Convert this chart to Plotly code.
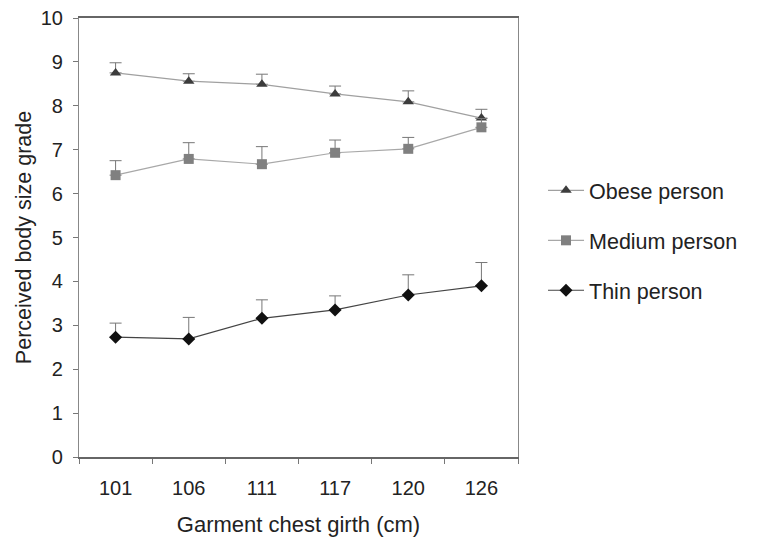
import plotly.graph_objects as go

categories = ["101", "106", "111", "117", "120", "126"]
obese = [8.75, 8.56, 8.49, 8.27, 8.09, 7.72]
obese_err = [0.23, 0.17, 0.23, 0.18, 0.25, 0.2]
medium = [6.42, 6.79, 6.67, 6.93, 7.02, 7.51]
medium_err = [0.33, 0.37, 0.4, 0.29, 0.26, 0.2]
thin = [2.73, 2.69, 3.16, 3.35, 3.69, 3.9]
thin_err = [0.32, 0.49, 0.42, 0.32, 0.46, 0.53]

FONT = "Liberation Sans, Arial, sans-serif"

fig = go.Figure()

def add(name, y, err, symbol, mcolor, lcolor, msize):
    fig.add_trace(go.Scatter(
        x=categories, y=y, name=name, mode="lines+markers",
        line=dict(color=lcolor, width=1.2),
        marker=dict(symbol=symbol, color=mcolor, size=msize),
        error_y=dict(type="data", array=err, arrayminus=[0]*len(err), symmetric=False,
                     color="#777777", thickness=1, width=6),
        legendgroup=name,
    ))

add("Obese person", obese, obese_err, "triangle-up", "#3c3c3c", "#a0a0a0", 10)
add("Medium person", medium, medium_err, "square", "#808080", "#a8a8a8", 10)
add("Thin person", thin, thin_err, "diamond", "#111111", "#444444", 10)

fig.update_layout(
    width=757, height=538, autosize=False,
    margin=dict(l=79, r=239, t=18, b=81),
    paper_bgcolor="white", plot_bgcolor="white",
    font=dict(family=FONT, size=20, color="#222222"),
    legend=dict(x=1.057, y=0.654, xanchor="left", yanchor="top",
                font=dict(size=21.5, color="#222222"), itemwidth=36,
                tracegroupgap=19, bgcolor="rgba(0,0,0,0)", borderwidth=0),
    showlegend=True,
)
fig.update_xaxes(
    type="category", range=[-0.5, len(categories) - 0.5],
    tickson="boundaries", ticks="outside", ticklen=5, tickcolor="#777777",
    showline=True, linecolor="#666666", linewidth=1.5, mirror=True,
    showgrid=False, tickfont=dict(size=20), ticklabelstandoff=12, automargin=False,
    title=dict(text="Garment chest girth (cm)", font=dict(size=22), standoff=19),
)
fig.update_yaxes(
    range=[0, 10], dtick=1, ticks="outside", ticklen=5, tickcolor="#777777",
    showline=True, linecolor="#888888", linewidth=1.2, mirror=True,
    showgrid=False, zeroline=False, tickfont=dict(size=20), ticklabelstandoff=6,
    automargin=False, ticklabeloverflow="allow",
    title=dict(text="Perceived body size grade", font=dict(size=21.5), standoff=3),
)

fig.write_html("out.html", config={"displayModeBar": False},
               post_script="document.body.style.margin='0';")
